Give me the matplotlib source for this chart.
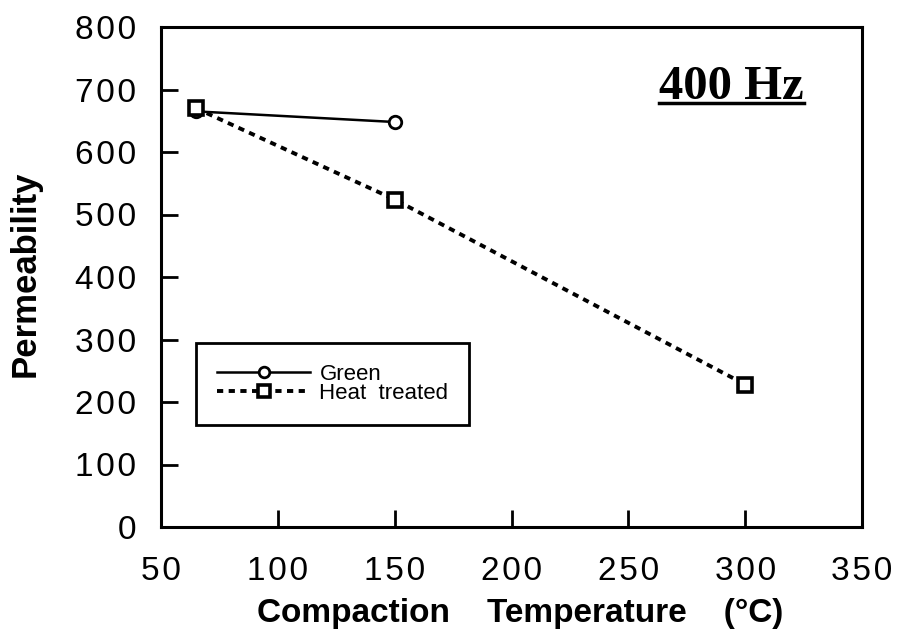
import matplotlib
matplotlib.use("Agg")
import matplotlib.pyplot as plt
from matplotlib.lines import Line2D
from matplotlib.ticker import FuncFormatter

green_x = [65, 150]
green_y = [665, 648]
heat_x = [65, 150, 300]
heat_y = [670, 524, 228]
x_ticks = [50, 100, 150, 200, 250, 300, 350]
y_ticks = [0, 100, 200, 300, 400, 500, 600, 700, 800]

plt.rcParams['font.family'] = ['Liberation Sans', 'DejaVu Sans']

fig = plt.figure(figsize=(8.98, 6.33), dpi=100)
ax = fig.add_axes([161/898, 1-527/633, 701/898, 500/633])

ax.plot(green_x, green_y, color='black', lw=1.8, marker='o', ms=9,
        mfc='white', mec='black', mew=2, label='Green', zorder=3)
ax.plot(heat_x, heat_y, color='black', lw=2.8, ls=(0, (1.6, 1.4)), marker='s', ms=10,
        mfc='white', mec='black', mew=2.6, label='Heat  treated', zorder=4)

ax.set_xlim(50, 350)
ax.set_ylim(0, 800)
ax.set_xticks(x_ticks)
ax.set_yticks(y_ticks)
spaced = FuncFormatter(lambda v, p: '\u200a'.join(str(int(v))))
ax.xaxis.set_major_formatter(spaced)
ax.yaxis.set_major_formatter(spaced)
ax.tick_params(direction='in', length=12, width=2, labelsize=24)
ax.tick_params(axis='x', pad=21)
ax.tick_params(axis='y', pad=18)
for s in ax.spines.values():
    s.set_linewidth(2.2)

ax.set_xlabel('Compaction    Temperature    (°C)', fontsize=24, fontweight='bold')
ax.xaxis.set_label_coords((520-161)/701, -(598-527)/500)
ax.set_ylabel('Permeability', fontsize=25, fontweight='bold')
ax.yaxis.set_label_coords(-(161-42)/701, 0.506)

ax.text(0.813, 0.856, '400 Hz', transform=ax.transAxes, ha='center', va='baseline',
        fontsize=35, fontweight='bold', family=['Liberation Serif', 'DejaVu Serif'])
ax.add_line(Line2D([0.710, 0.917], [0.848, 0.848], transform=ax.transAxes,
                   color='black', lw=2.5))

leg = ax.legend(loc='lower left', bbox_to_anchor=(0.05, 0.204), fontsize=16,
                frameon=True, fancybox=False, edgecolor='black', borderpad=0.95,
                handlelength=4.2, handletextpad=0.4, labelspacing=-0.08, borderaxespad=0,
                markerscale=0.85)
leg.get_frame().set_linewidth(2)
leg.get_frame().set_alpha(1)

fig.savefig('out.png', dpi=100)
